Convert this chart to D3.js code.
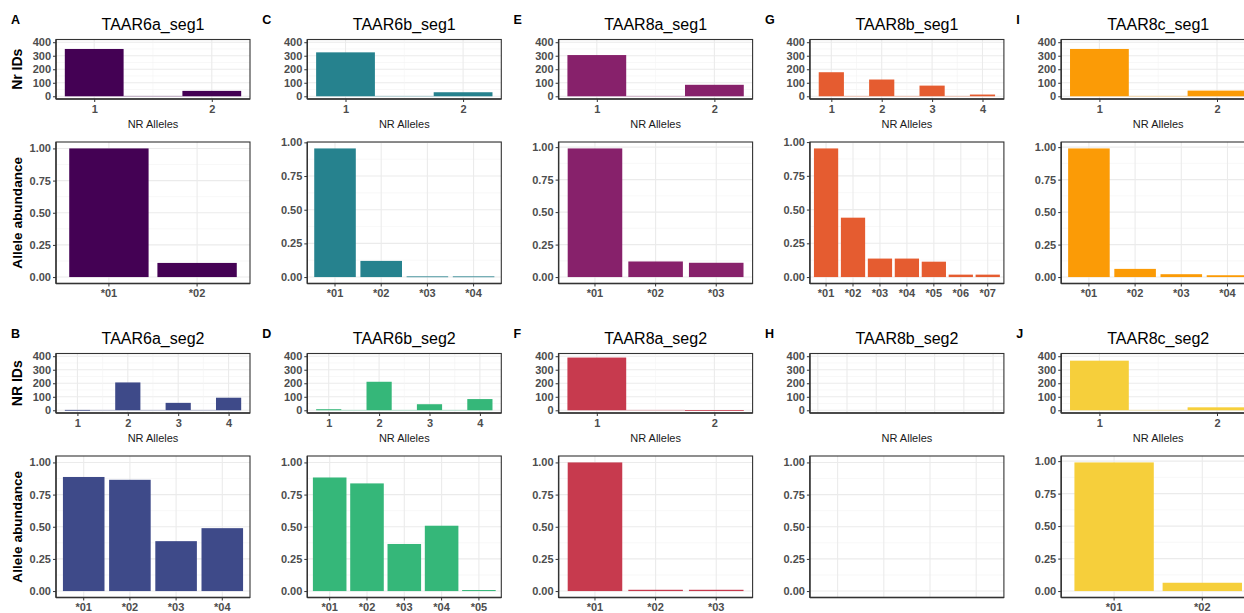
<!DOCTYPE html>
<html><head><meta charset="utf-8">
<script src="https://cdn.jsdelivr.net/npm/d3@7"></script>
<style>
body{margin:0;background:#fff}
svg{display:block}
text{font-family:"Liberation Sans",Arial,Helvetica,sans-serif}
</style>
</head><body>
<svg id="chart" width="1244" height="613"></svg>
<script>
// ---- data (panel order: A,B,C,D,E,F,G,H,I,J ; columns of two rows) ----
const panelLetters = ["A","B","C","D","E","F","G","H","I","J"];
const panelTitles = ["TAAR6a_seg1","TAAR6a_seg2","TAAR6b_seg1","TAAR6b_seg2","TAAR8a_seg1","TAAR8a_seg2","TAAR8b_seg1","TAAR8b_seg2","TAAR8c_seg1","TAAR8c_seg2"];
const panelColors = ["#440154","#3e4a89","#26828e","#35b779","#87216b","#c73a4e","#e55c30",null,"#fb9b06","#f6cf3b"];
const nrIDs = [
  [350,40],
  [3,206,55,93],
  [325,30],
  [8,211,45,83],
  [305,85],
  [390,2],
  [178,124,79,13],
  [],
  [350,42],
  [367,22]
];
const alleleNames = [
  ["*01","*02"],
  ["*01","*02","*03","*04"],
  ["*01","*02","*03","*04"],
  ["*01","*02","*03","*04","*05"],
  ["*01","*02","*03"],
  ["*01","*02","*03"],
  ["*01","*02","*03","*04","*05","*06","*07"],
  [],
  ["*01","*02","*03","*04"],
  ["*01","*02"]
];
const alleleAbundance = [
  [1.00,0.11],
  [0.887,0.865,0.388,0.489],
  [0.955,0.12,0.005,0.005],
  [0.883,0.837,0.366,0.508,0.008],
  [0.99,0.12,0.11],
  [1.00,0.01,0.01],
  [0.953,0.44,0.137,0.137,0.114,0.018,0.018],
  [],
  [0.99,0.063,0.022,0.014],
  [0.99,0.064]
];
const abundanceLimit = [null,1,null,1,null,1,null,1,null,null];
const emptyAlleleSlots = 4;            // panel H: empty discrete axis
const emptyNrGrid = [0,1,2,3,4,5,6];   // panel H: empty continuous axis
const nrIDTicks = [0,100,200,300,400];
const nrIDMinor = [50,150,250,350];
const nrIDLimits = [0,400];
const abundanceTicks = [0,0.25,0.5,0.75,1];
const abundanceMinor = [0.125,0.375,0.625,0.875];
const topYTitles = ["Nr IDs","NR IDs"];
const bottomYTitle = "Allele abundance";
const xTitle = "NR Alleles";

// ---- layout ----
const svg = d3.select("#chart");
const colW = 251.3, rowH = 314, pL = 56, pW = 194;
const topY0 = 39.5, topY1 = 99, botY0 = 142, botY1 = 283.5;
const gridMajor = "#ebebeb", gridMinor = "#f3f3f3", tickCol = "#4d4d4d", border = "#333333";

function drawGridY(g, y, major, minor, x0, x1){
  g.selectAll(null).data(minor.filter(v=>v>=y.domain()[0]&&v<=y.domain()[1])).join("line")
    .attr("x1",x0).attr("x2",x1).attr("y1",d=>y(d)).attr("y2",d=>y(d))
    .attr("stroke",gridMinor).attr("stroke-width",0.6);
  g.selectAll(null).data(major.filter(v=>v>=y.domain()[0]&&v<=y.domain()[1])).join("line")
    .attr("x1",x0).attr("x2",x1).attr("y1",d=>y(d)).attr("y2",d=>y(d))
    .attr("stroke",gridMajor).attr("stroke-width",1.1);
}
function drawYAxis(g, y, ticks, fmt){
  const ax = d3.axisLeft(y).tickValues(ticks.filter(v=>v>=y.domain()[0]&&v<=y.domain()[1]+1e-9)).tickFormat(fmt).tickSize(3).tickPadding(2);
  const a = g.append("g").attr("transform",`translate(${pL},0)`).call(ax);
  a.select(".domain").remove();
  a.selectAll(".tick line").attr("stroke",border);
  a.selectAll(".tick text").attr("fill",tickCol).attr("font-size",11).attr("font-weight","bold")
    .attr("font-family","'Liberation Sans',Arial,sans-serif");
}
function drawBox(g, y0, y1){
  g.append("rect").attr("x",pL).attr("y",y0).attr("width",pW).attr("height",y1-y0)
    .attr("fill","none").attr("stroke",border).attr("stroke-width",1.1);
  g.append("line").attr("x1",pL).attr("x2",pL+pW).attr("y1",y1).attr("y2",y1).attr("stroke",border).attr("stroke-width",1.4);
  g.append("line").attr("x1",pL).attr("x2",pL).attr("y1",y0).attr("y2",y1).attr("stroke",border).attr("stroke-width",1.4);
}

panelTitles.forEach((title, idx) => {
  const col = Math.floor(idx/2), row = idx % 2;
  const g = svg.append("g").attr("transform",`translate(${col*colW},${row*rowH})`);
  const color = panelColors[idx];

  g.append("text").attr("x",11).attr("y",23.5).attr("font-size",12.5).attr("font-weight","bold").text(panelLetters[idx]);
  g.append("text").attr("x",pL+pW/2).attr("y",29.5).attr("text-anchor","middle").attr("font-size",16).attr("fill","#000").text(title);

  // ---------- top: Nr IDs vs NR alleles ----------
  const counts = nrIDs[idx], n = counts.length;
  let x;
  if (n > 0) {
    const lo = 0.75, hi = n + 0.25, e = 0.05*(hi-lo);
    x = d3.scaleLinear().domain([lo-e, hi+e]).range([pL, pL+pW]);
  } else {
    x = d3.scaleLinear().domain([-0.27, 6.37]).range([pL, pL+pW]);
  }
  const e2 = 0.05*(nrIDLimits[1]-nrIDLimits[0]);
  const yT = d3.scaleLinear().domain([nrIDLimits[0]-e2, nrIDLimits[1]+e2]).range([topY1, topY0]);
  const gt = g.append("g");
  gt.append("rect").attr("x",pL).attr("y",topY0).attr("width",pW).attr("height",topY1-topY0).attr("fill","#fff");
  drawGridY(gt, yT, nrIDTicks, nrIDMinor, pL, pL+pW);
  let xMajor, xMinor;
  if (n > 0) {
    xMajor = d3.range(1, n+1);
    xMinor = d3.range(1.5, n, 1);
  } else { xMajor = emptyNrGrid; xMinor = []; }
  gt.selectAll(null).data(xMinor).join("line").attr("x1",d=>x(d)).attr("x2",d=>x(d)).attr("y1",topY0).attr("y2",topY1).attr("stroke",gridMinor).attr("stroke-width",0.6);
  gt.selectAll(null).data(xMajor).join("line").attr("x1",d=>x(d)).attr("x2",d=>x(d)).attr("y1",topY0).attr("y2",topY1).attr("stroke",gridMajor).attr("stroke-width",1.1);
  if (n > 0) {
    // empty histogram bins between the counts
    gt.selectAll(null).data(d3.range(1, n)).join("line")
      .attr("x1",d=>x(d+0.25)).attr("x2",d=>x(d+0.75)).attr("y1",yT(0)).attr("y2",yT(0))
      .attr("stroke",color).attr("stroke-opacity",0.3).attr("stroke-width",1);
    gt.selectAll(null).data(counts).join("rect")
      .attr("x",(d,i)=>x(i+1-0.25)).attr("width",(d,i)=>x(i+1+0.25)-x(i+1-0.25))
      .attr("y",d=>yT(d)).attr("height",d=>Math.max(0.8, yT(0)-yT(d)))
      .attr("fill",color);
    const ax = d3.axisBottom(x).tickValues(xMajor).tickFormat(d3.format("d")).tickSize(3).tickPadding(3);
    const a = gt.append("g").attr("transform",`translate(0,${topY1})`).call(ax);
    a.select(".domain").remove();
    a.selectAll(".tick line").attr("stroke",border);
    a.selectAll(".tick text").attr("fill",tickCol).attr("font-size",11).attr("font-weight","bold")
      .attr("font-family","'Liberation Sans',Arial,sans-serif");
  }
  drawYAxis(gt, yT, nrIDTicks, d3.format("d"));
  drawBox(gt, topY0, topY1);
  gt.append("text").attr("x",pL+pW/2).attr("y",128).attr("text-anchor","middle").attr("font-size",11).attr("fill","#1a1a1a").text(xTitle);
  if (col === 0) {
    gt.append("text").attr("transform",`translate(22,${(topY0+topY1)/2}) rotate(-90)`).attr("text-anchor","middle")
      .attr("font-size",14).attr("font-weight","bold").attr("fill","#000").text(topYTitles[row]);
  }

  // ---------- bottom: allele abundance ----------
  const names = alleleNames[idx], vals = alleleAbundance[idx];
  const gb = g.append("g");
  const m = abundanceLimit[idx] != null ? abundanceLimit[idx] : d3.max(vals);
  const yB = d3.scaleLinear().domain([-0.05*m, 1.05*m]).range([botY1, botY0]);
  const slots = names.length > 0 ? names : d3.range(emptyAlleleSlots).map(String);
  const xb = d3.scaleBand().domain(slots).range([pL, pL+pW]).paddingInner(0.1).paddingOuter(0.15);
  drawGridY(gb, yB, abundanceTicks, abundanceMinor, pL, pL+pW);
  gb.selectAll(null).data(slots).join("line")
    .attr("x1",d=>xb(d)+xb.bandwidth()/2).attr("x2",d=>xb(d)+xb.bandwidth()/2)
    .attr("y1",botY0).attr("y2",botY1).attr("stroke",gridMajor).attr("stroke-width",1.1);
  if (names.length > 0) {
    gb.selectAll(null).data(vals).join("rect")
      .attr("x",(d,i)=>xb(names[i])).attr("width",xb.bandwidth())
      .attr("y",d=>yB(d)).attr("height",d=>Math.max(0.8, yB(0)-yB(d)))
      .attr("fill",color);
    const ax = d3.axisBottom(xb).tickSize(3).tickPadding(3);
    const a = gb.append("g").attr("transform",`translate(0,${botY1})`).call(ax);
    a.select(".domain").remove();
    a.selectAll(".tick line").attr("stroke",border);
    a.selectAll(".tick text").attr("fill",tickCol).attr("font-size",11).attr("font-weight","bold")
      .attr("font-family","'Liberation Sans',Arial,sans-serif");
  }
  drawYAxis(gb, yB, abundanceTicks, d3.format(".2f"));
  drawBox(gb, botY0, botY1);
  if (col === 0) {
    gb.append("text").attr("transform",`translate(22,${(botY0+botY1)/2}) rotate(-90)`).attr("text-anchor","middle")
      .attr("font-size",13.6).attr("font-weight","bold").attr("fill","#000").text(bottomYTitle);
  }
});
</script>
</body></html>
